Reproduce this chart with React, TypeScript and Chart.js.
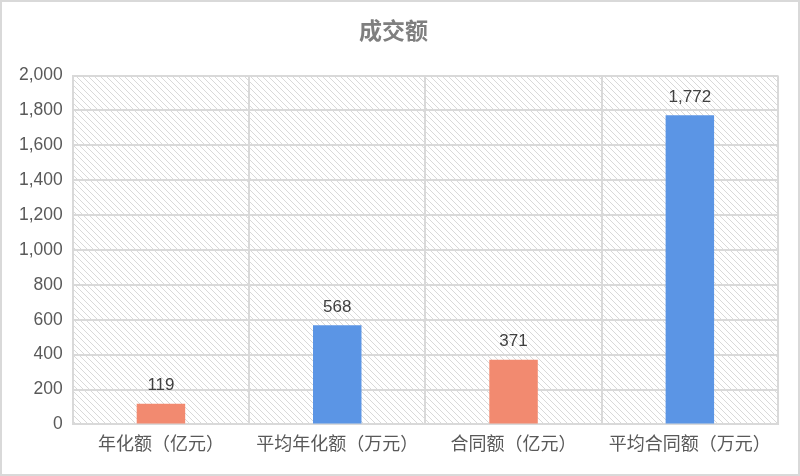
import { useEffect, useRef } from 'react';
import { Chart, registerables, Plugin } from 'chart.js';

Chart.register(...registerables);

// chart data
const categories = ['年化额（亿元）', '平均年化额（万元）', '合同额（亿元）', '平均合同额（万元）'];
const values = [119, 568, 371, 1772];
const barColors = ['#F28A70', '#5B95E5', '#F28A70', '#5B95E5'];

const FONT = "'Liberation Sans', 'Noto Sans CJK SC', sans-serif";

// diagonal hatch behind the plot area
const makeHatch = (ctx: CanvasRenderingContext2D) => {
    const c = document.createElement('canvas');
    c.width = 6;
    c.height = 6;
    const p = c.getContext('2d')!;
    p.strokeStyle = '#d9d9d9';
    p.lineWidth = 1;
    p.beginPath();
    p.moveTo(-1, -1);
    p.lineTo(7, 7);
    p.moveTo(-1, 5);
    p.lineTo(1, 7);
    p.moveTo(5, -1);
    p.lineTo(7, 1);
    p.stroke();
    return ctx.createPattern(c, 'repeat');
};

const hatchPlugin: Plugin<'bar'> = {
    id: 'hatch',
    beforeDraw(chart) {
        const { ctx, chartArea } = chart;
        const pat = makeHatch(ctx);
        if (!pat) return;
        ctx.save();
        ctx.fillStyle = pat;
        ctx.fillRect(chartArea.left, chartArea.top, chartArea.right - chartArea.left, chartArea.bottom - chartArea.top);
        ctx.restore();
    },
};

// value labels above bars
const valueLabels: Plugin<'bar'> = {
    id: 'valueLabels',
    afterDatasetsDraw(chart) {
        const { ctx } = chart;
        const meta = chart.getDatasetMeta(0);
        ctx.save();
        ctx.font = `17px ${FONT}`;
        ctx.fillStyle = '#404040';
        ctx.textAlign = 'center';
        ctx.textBaseline = 'bottom';
        meta.data.forEach((bar, i) => {
            ctx.fillText(values[i].toLocaleString('en-US'), bar.x, bar.y - 10);
        });
        ctx.restore();
    },
};

const BarChart = () => {
    const canvasRef = useRef<HTMLCanvasElement | null>(null);
    const chartInstance = useRef<Chart<'bar'> | null>(null);

    useEffect(() => {
        document.body.style.margin = '0';
        if (!canvasRef.current) return;
        if (chartInstance.current) chartInstance.current.destroy();

        chartInstance.current = new Chart(canvasRef.current, {
            type: 'bar',
            data: {
                labels: categories,
                datasets: [
                    {
                        data: values,
                        backgroundColor: barColors,
                        barPercentage: 0.55,
                        categoryPercentage: 0.5,
                    },
                ],
            },
            options: {
                animation: false,
                responsive: false,
                maintainAspectRatio: false,
                layout: { padding: { left: 7, right: 20, top: 0, bottom: 8 } },
                plugins: {
                    legend: { display: false },
                    tooltip: { enabled: false },
                    title: {
                        display: true,
                        text: '成交额',
                        color: '#7f7f7f',
                        font: { family: FONT, size: 23, weight: 'bold' },
                        padding: { top: 17, bottom: 29 },
                    },
                },
                scales: {
                    x: {
                        grid: { color: '#d9d9d9', lineWidth: 2, drawTicks: false },
                        border: { color: '#d9d9d9', width: 2 },
                        ticks: {
                            color: '#595959',
                            font: { family: FONT, size: 18 },
                            padding: 10,
                            maxRotation: 0,
                        },
                    },
                    y: {
                        min: 0,
                        max: 2000,
                        grid: { color: '#d9d9d9', lineWidth: 2, drawTicks: false },
                        border: { color: '#d9d9d9', width: 2 },
                        ticks: {
                            stepSize: 200,
                            color: '#595959',
                            font: { family: FONT, size: 17.5 },
                            padding: 10,
                        },
                    },
                },
            },
            plugins: [hatchPlugin, valueLabels],
        });

        return () => {
            if (chartInstance.current) {
                chartInstance.current.destroy();
                chartInstance.current = null;
            }
        };
    }, []);

    return (
        <div
            style={{
                width: 800,
                height: 476,
                boxSizing: 'border-box',
                border: '2px solid #d9d9d9',
                background: '#fff',
            }}
        >
            <canvas ref={canvasRef} width={796} height={472} />
        </div>
    );
};

export default function App() {
    return <BarChart />;
}
